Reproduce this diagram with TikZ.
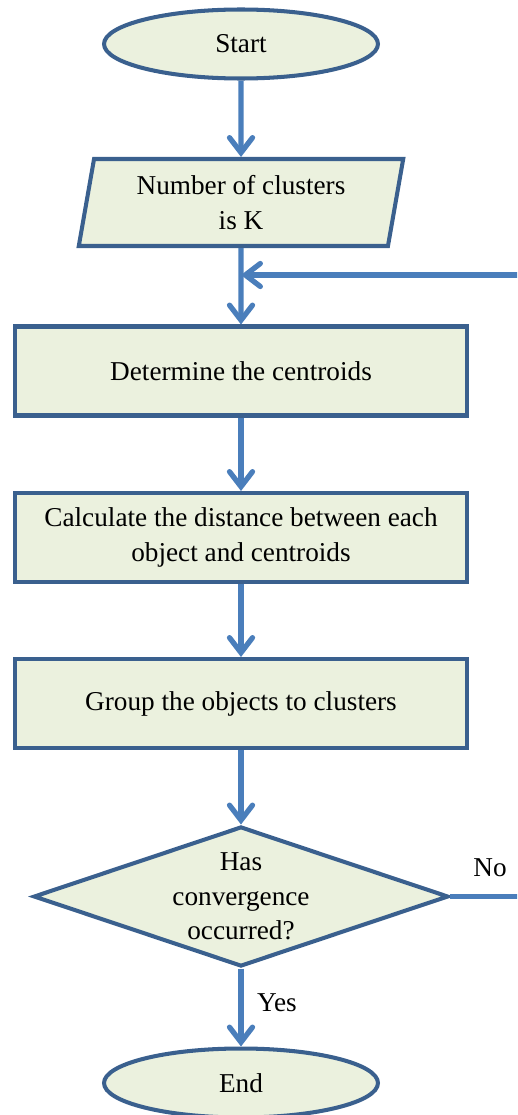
\documentclass[tikz,border=0pt]{standalone}
\usepackage{fontspec}
\setmainfont{Liberation Serif}
\usetikzlibrary{shapes.geometric,arrows.meta}
\definecolor{boxfill}{RGB}{235,241,222}
\definecolor{boxline}{RGB}{58,96,142}
\definecolor{arrowblue}{RGB}{74,126,187}

\begin{document}
\begin{tikzpicture}[x=0.02cm, y=-0.02cm,
		every node/.style={font=\fontsize{15.5}{19.5}\selectfont, align=center},
		box/.style={draw=boxline, fill=boxfill, line width=2.3pt, inner sep=0pt},
		terminal/.style={box, ellipse, minimum width=5.48cm, minimum height=1.38cm},
		inout/.style={box, trapezium, trapezium left angle=78.6, trapezium right angle=101.4, trapezium stretches, minimum width=6.5cm, minimum height=1.74cm},
		process/.style={box, rectangle, minimum width=9.04cm, minimum height=1.78cm},
		decision/.style={box, diamond, aspect=2.9, minimum width=8.3cm, minimum height=2.8cm},
		flow/.style={draw=arrowblue, line width=3pt, -{Straight Barb[length=0.3cm, width=0.46cm, line cap=round]}}]
			\useasboundingbox (0,0) rectangle (517,1115);
			\clip (0,0) rectangle (517,1115);

			\node[terminal] (start) at (241,44) {Start};
			\node[inout] (input) at (241,202.5) {Number of clusters\\is K};
			\node[process] (determine) at (241,371) {Determine the centroids};
			\node[process] (distance) at (241,537.5) {Calculate the distance between each\\object and centroids};
			\node[process] (group) at (241,703.5) {Group the objects to clusters};
			\node[decision] (decide) at (241,896.5) {Has\\convergence\\occurred?};
			\node[terminal] (end) at (241,1083) {End};

			\coordinate (join) at (241,275);
			\coordinate (back) at (560,275);

			\node (no) at (490,868) {No};
			\node (yes) at (277,1003) {Yes};

			\draw[flow] (start) -- (input);
			\draw[flow] (input) -- (determine);
			\draw[flow] (determine) -- (distance);
			\draw[flow] (distance) -- (group);
			\draw[flow] (group) -- (decide);
			\draw[flow] (decide) -- (end);
			\draw[flow] (decide.east) -| (back) -- (join);
		\end{tikzpicture}
\end{document}
